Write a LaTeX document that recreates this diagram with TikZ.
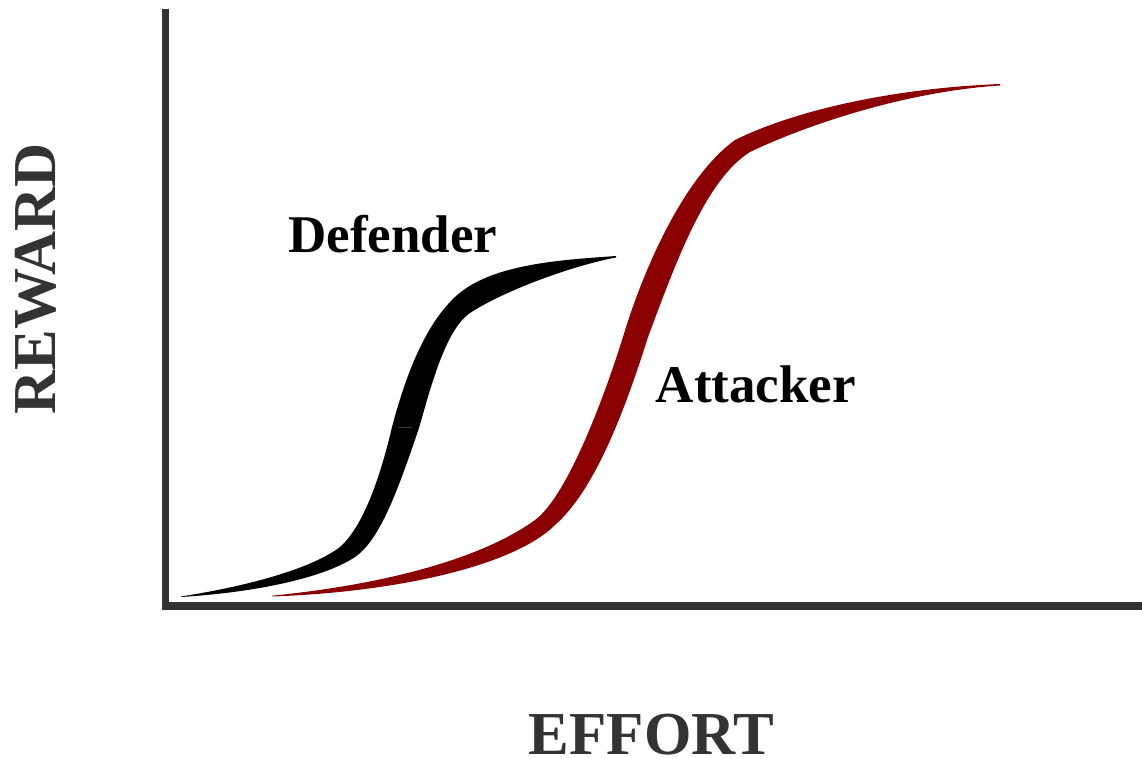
\documentclass[tikz,border=0pt]{standalone}
\usepackage{fontspec}
\setmainfont{Liberation Serif}
\usepackage{tikz}

\definecolor{axisgray}{HTML}{333333}
\definecolor{attackred}{HTML}{8B0000}

\tikzset{
  axisline/.style={draw=axisgray, line width=7.5pt, line join=miter},
  band/.style={draw=none},
  curvelabel/.style={anchor=base, inner sep=0pt, font=\fontsize{53}{60}\selectfont\bfseries},
  axislabel/.style={anchor=base, inner sep=0pt, text=axisgray, font=\fontsize{61}{70}\selectfont\bfseries}
}

\begin{document}
\begin{tikzpicture}[x=1pt, y=-1pt]
   \useasboundingbox (0,0) rectangle (1142,759);

   \coordinate (ytop)   at (165.5,9);
   \coordinate (origin) at (165.5,606);
   \coordinate (xend)   at (1142,606);
   \draw[axisline] (ytop) -- (origin) -- (xend);

   % defender, lower and upper half
   \fill[band, black] (181,596.5) .. controls (260,584) and (315,566) .. (340,547)
        .. controls (365,525) and (382,470) .. (392,427) -- (419,428)
        .. controls (398,490) and (380,540) .. (355,557)
        .. controls (325,577) and (260,592) .. (181,597) -- cycle;
   \fill[band, black] (392,427) .. controls (402,390) and (420,330) .. (455,297)
        .. controls (490,264) and (560,260) .. (616,256) -- (616,257.5)
        .. controls (575,265) and (505,290) .. (470,313)
        .. controls (445,330) and (430,390) .. (419,428) -- cycle;

   % attacker, lower and upper half
   \fill[band, attackred] (272,595.7) .. controls (380,585) and (480,560) .. (535,520)
        .. controls (565,498) and (600,410) .. (623,337) -- (648,337)
        .. controls (625,410) and (595,490) .. (555,525)
        .. controls (515,565) and (400,592) .. (272,596.5) -- cycle;
   \fill[band, attackred] (623,337) .. controls (640,280) and (680,180) .. (735,140)
        .. controls (800,108) and (900,88) .. (1000,84) -- (1000,85.5)
        .. controls (900,92) and (800,128) .. (750,152)
        .. controls (705,180) and (675,265) .. (648,337) -- cycle;

   \node[curvelabel] (defender) at (393,252.7) {Defender};
   \node[curvelabel] (attacker) at (755.8,402.7) {Attacker};

   \node[axislabel] (effort) at (651.5,754.3) {EFFORT};
   \node[axislabel, rotate=90] (reward) at (55,279) {REWARD};
\end{tikzpicture}
\end{document}
